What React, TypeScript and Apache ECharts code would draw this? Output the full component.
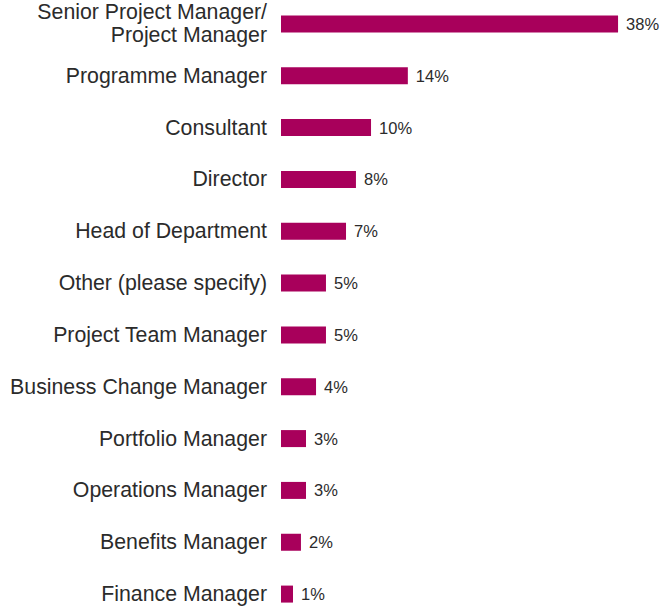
import React, { useEffect, useRef } from "react";
import * as echarts from "echarts";

const categories = [
  "Senior Project Manager/\nProject Manager",
  "Programme Manager",
  "Consultant",
  "Director",
  "Head of Department",
  "Other (please specify)",
  "Project Team Manager",
  "Business Change Manager",
  "Portfolio Manager",
  "Operations Manager",
  "Benefits Manager",
  "Finance Manager",
];

const values = [38, 14.3, 10.15, 8.45, 7.33, 5.07, 5.07, 3.95, 2.82, 2.82, 2.25, 1.35];

const valueLabels = ["38%", "14%", "10%", "8%", "7%", "5%", "5%", "4%", "3%", "3%", "2%", "1%"];

export default function App() {
  const ref = useRef<HTMLDivElement>(null);

  useEffect(() => {
    document.body.style.margin = "0";
    document.body.style.overflow = "hidden";
    if (!ref.current) return;
    const chart = echarts.init(ref.current, undefined, { renderer: "svg" });
    chart.setOption({
      animation: false,
      backgroundColor: "#ffffff",
      textStyle: { fontFamily: "Liberation Sans, Arial, sans-serif" },
      grid: { left: 281, top: 0, width: 354.8, bottom: 0, containLabel: false, outerBoundsMode: "none" },
      xAxis: {
        type: "value",
        min: 0,
        max: 40,
        show: false,
      },
      yAxis: {
        type: "category",
        inverse: true,
        data: categories,
        axisLine: { show: false },
        axisTick: { show: false },
        splitLine: { show: false },
        axisLabel: {
          margin: 14,
          fontSize: 21.3,
          lineHeight: 23,
          color: "#2b2b2b",
          fontFamily: "Liberation Sans, Arial, sans-serif",
        },
      },
      series: [
        {
          type: "bar",
          data: values,
          barWidth: 17,
          itemStyle: { color: "#a8005b" },
          label: {
            show: true,
            position: "right",
            distance: 8,
            fontSize: 16.5,
            color: "#2b2b2b",
            fontFamily: "Liberation Sans, Arial, sans-serif",
            formatter: (p: any) => valueLabels[p.dataIndex],
          },
        },
      ],
    });
    return () => chart.dispose();
  }, []);

  return (
    <div style={{ width: 661, height: 607, overflow: "hidden" }}>
      <div ref={ref} style={{ width: 661, height: 622, marginTop: -2.4 }} />
    </div>
  );
}
